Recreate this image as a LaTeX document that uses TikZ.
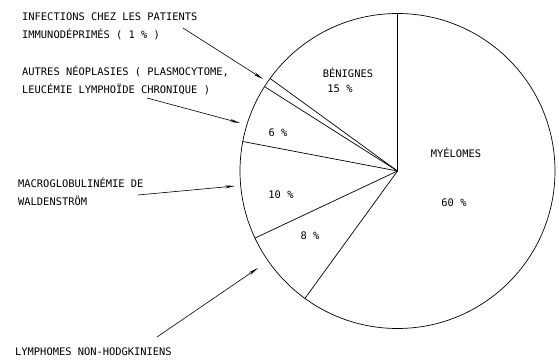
\documentclass[tikz,border=0pt]{standalone}
\usepackage{fontspec}
\setmonofont{DejaVu Sans Mono}
\usetikzlibrary{arrows.meta}

\begin{document}
\begin{tikzpicture}[x=1pt,y=1pt,
  lbl/.style={font=\ttfamily\fontsize{10.4}{18}\selectfont, align=left, anchor=west, inner sep=0pt},
  pct/.style={font=\ttfamily\fontsize{10.4}{16}\selectfont, inner sep=0pt},
  ptr/.style={-{Stealth[length=10pt,width=3pt]}, line width=0.6pt}]
\useasboundingbox (0,0) rectangle (558,360);
% pie
\coordinate (c) at (397.5,189);
\draw[line width=0.7pt] (c) circle (157.5);
\foreach \a in {90,144,147.6,169.2,205.2,234}
  \draw[line width=0.7pt] (c) -- ++(\a:157.5);
% sector texts
\node[pct] (benig) at (348,287) {BÉNIGNES};
\node[pct] (p15) at (340,271) {15 \%};
\node[pct] (p6) at (278,227) {6 \%};
\node[pct] (p10) at (281,165) {10 \%};
\node[pct] (p8) at (310,124) {8 \%};
\node[pct] (myel) at (456,207) {MYÉLOMES};
\node[pct] (p60) at (454,157) {60 \%};
% outside labels
\node[lbl] (infect) at (22,334) {INFECTIONS CHEZ LES PATIENTS\\IMMUNODÉPRIMÉS ( 1 \% )};
\node[lbl] (autres) at (22,279.5) {AUTRES NÉOPLASIES ( PLASMOCYTOME,\\LEUCÉMIE LYMPHOÏDE CHRONIQUE )};
\node[lbl] (macro) at (18,168.5) {MACROGLOBULINÉMIE DE\\WALDENSTRÖM};
\node[lbl] (lymph) at (15,8) {LYMPHOMES NON-HODGKINIENS};
% arrows
\coordinate (t1) at (183,332);
\coordinate (h1) at (263,281);
\coordinate (t2) at (147,262);
\coordinate (h2) at (240,237);
\coordinate (t3) at (138,165);
\coordinate (h3) at (235,174);
\coordinate (t4) at (157,23);
\coordinate (h4) at (258,92);
\draw[ptr] (t1) -- (h1);
\draw[ptr] (t2) -- (h2);
\draw[ptr] (t3) -- (h3);
\draw[ptr] (t4) -- (h4);
\end{tikzpicture}
\end{document}
